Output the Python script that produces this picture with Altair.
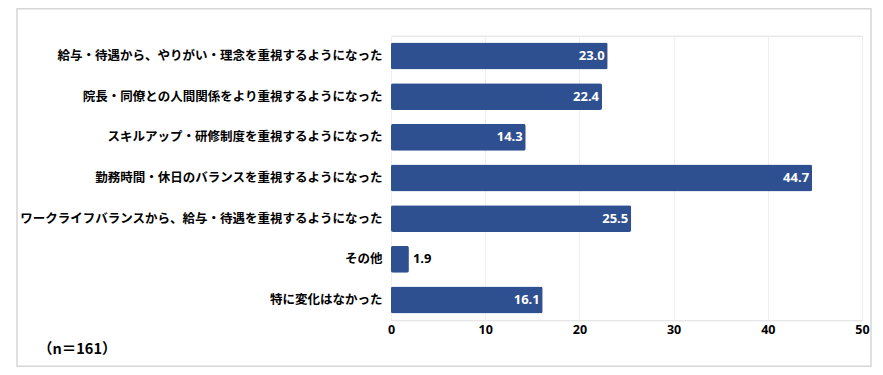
import altair as alt
import pandas as pd

categories = [
    "給与・待遇から、やりがい・理念を重視するようになった",
    "院長・同僚との人間関係をより重視するようになった",
    "スキルアップ・研修制度を重視するようになった",
    "勤務時間・休日のバランスを重視するようになった",
    "ワークライフバランスから、給与・待遇を重視するようになった",
    "その他",
    "特に変化はなかった",
]
values = [23.0, 22.4, 14.3, 44.7, 25.5, 1.9, 16.1]
x_ticks = [0, 10, 20, 30, 40, 50]
note = "（n＝161）"

df = pd.DataFrame({"cat": categories, "val": values})
df["inside"] = df["val"] >= 5

W, H = 471, 284.6
BAR = "#2F5090"
JP = "Noto Sans CJK JP"

y_enc = alt.Y("cat:N", sort=None, title=None,
              scale=alt.Scale(paddingInner=0.34, paddingOuter=0.17),
              axis=alt.Axis(labelFont=JP, labelFontSize=12.5, labelFontWeight="bold",
                            labelColor="#000000", ticks=False, domain=False, grid=False,
                            labelPadding=9, labelLimit=400))
x_enc = alt.X("val:Q", title=None,
              scale=alt.Scale(domain=[0, 50], nice=False),
              axis=alt.Axis(values=x_ticks, labelFont="Noto Sans", labelFontSize=12.5,
                            labelFontWeight="bold", labelColor="#000000", ticks=False,
                            domain=False, labelPadding=3, gridColor="#eeeeee",
                            gridWidth=1, labelFlush=False))

base = alt.Chart(df)
bars = base.mark_bar(color=BAR, cornerRadius=2).encode(x=x_enc, y=y_enc)

lab_in = base.transform_filter("datum.inside").mark_text(
    align="right", baseline="middle", dx=-3, color="white", font="Noto Sans",
    fontSize=13, fontWeight="bold").encode(
    x="val:Q", y=alt.Y("cat:N", sort=None), text=alt.Text("val:Q", format=".1f"))
lab_out = base.transform_filter("!datum.inside").mark_text(
    align="left", baseline="middle", dx=4, color="#000000", font="Noto Sans",
    fontSize=13, fontWeight="bold").encode(
    x="val:Q", y=alt.Y("cat:N", sort=None), text=alt.Text("val:Q", format=".1f"))

note_df = pd.DataFrame({"t": [note]})
note_mark = alt.Chart(note_df).mark_text(
    align="left", baseline="middle", font=JP, fontSize=14.5, fontWeight="bold",
    color="#000000").encode(x=alt.value(-353), y=alt.value(314.5), text="t:N")

border = alt.Chart(note_df).mark_rect(
    fill=None, fillOpacity=0, stroke="#d6d6d6", strokeWidth=1.5).encode(
    x=alt.value(-374), x2=alt.value(480), y=alt.value(-27), y2=alt.value(330.5))

chart = alt.layer(border, bars, lab_in, lab_out, note_mark).properties(
    width=W, height=H,
    autosize=alt.AutoSizeParams(type="none"),
    padding={"left": 383, "top": 27.7, "right": 12, "bottom": 46.7},
).configure_view(strokeWidth=0, stroke="transparent").configure(background="white")

chart.save("out.html", embed_options={"renderer": "svg", "actions": False})
